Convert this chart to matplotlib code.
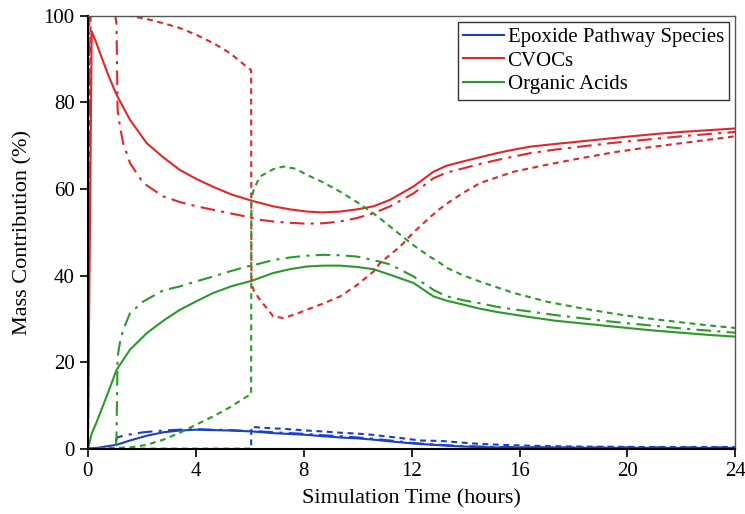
import matplotlib.pyplot as plt

plt.rcParams['font.family'] = ['Liberation Serif', 'DejaVu Serif']

BLUE = "#1c3fc4"
RED = "#e2262b"
GREEN = "#2b9a2b"

# solid scenario
t_solid = [0, 0.14, 0.3, 0.45, 0.75, 1.06, 1.56, 2.18, 2.8, 3.41, 4.03, 4.65, 5.3, 6.07, 6.87, 7.5, 8.11, 8.7, 9.35, 9.97, 10.58, 11.2, 12.07, 12.81, 13.3, 13.92, 14.5, 15.16, 15.78, 16.4, 17.3, 18.25, 19.2, 20, 21, 22, 23, 24]
epox_solid = [0, 0.05, 0.15, 0.3, 0.6, 0.9, 1.9, 3.0, 3.8, 4.2, 4.4, 4.3, 4.2, 4.0, 3.6, 3.4, 3.2, 2.9, 2.6, 2.4, 2.1, 1.7, 1.2, 0.9, 0.7, 0.5, 0.4, 0.3, 0.3, 0.3, 0.25, 0.2, 0.2, 0.2, 0.2, 0.2, 0.2, 0.2]
cvoc_solid = [0, 96.4, 94, 91.4, 86.4, 81.8, 76, 70.6, 67.3, 64.4, 62.3, 60.5, 58.8, 57.3, 56, 55.3, 54.8, 54.6, 54.8, 55.3, 56, 57.5, 60.6, 64, 65.4, 66.4, 67.3, 68.3, 69.1, 69.8, 70.4, 71, 71.6, 72.1, 72.7, 73.2, 73.6, 74]
acid_solid = [0, 3.5, 5.8, 8.2, 13, 18.2, 22.9, 26.7, 29.6, 32.1, 34.1, 36, 37.5, 38.8, 40.6, 41.5, 42.1, 42.3, 42.3, 42, 41.5, 40.2, 38.3, 35.2, 34.2, 33.3, 32.4, 31.6, 31, 30.4, 29.6, 29, 28.4, 27.9, 27.3, 26.8, 26.3, 25.9]

# dash-dot scenario
t_dd = [0, 0.05, 1.02, 1.06, 1.1, 1.2, 1.31, 1.56, 2.05, 2.79, 3.41, 4.03, 4.65, 5.27, 5.9, 6.38, 6.87, 7.5, 8.11, 8.73, 9.35, 9.97, 10.58, 11.2, 12.07, 12.81, 13.3, 13.92, 14.54, 15.16, 15.78, 16.4, 17.3, 18.25, 19.2, 20, 21, 22, 23, 24]
epox_dd = [0, 0, 0, 2.5, 2.6, 2.8, 3.0, 3.3, 3.8, 4.2, 4.4, 4.5, 4.4, 4.3, 4.1, 4.0, 3.8, 3.6, 3.4, 3.1, 2.9, 2.6, 2.3, 1.9, 1.3, 1.0, 0.8, 0.6, 0.5, 0.4, 0.35, 0.3, 0.3, 0.3, 0.3, 0.3, 0.3, 0.3, 0.3, 0.3]
cvoc_dd = [0, 100, 100, 98, 78.3, 74, 70.6, 66, 61.4, 58.3, 57, 56, 55.2, 54.4, 53.6, 52.9, 52.5, 52.2, 52, 52.1, 52.5, 53.3, 54.4, 56, 59, 62.5, 63.8, 64.8, 65.8, 66.7, 67.5, 68.3, 69.1, 69.8, 70.5, 71, 71.6, 72.2, 72.7, 73.2]
acid_dd = [0, 0, 0, 2.5, 21.3, 25, 27.5, 31.3, 34, 36.6, 37.5, 38.7, 39.8, 41, 42.1, 42.8, 43.6, 44.2, 44.6, 44.8, 44.7, 44.4, 43.6, 42.6, 39.8, 36.7, 35.2, 34.3, 33.6, 32.8, 32.2, 31.7, 30.9, 30.2, 29.5, 29, 28.4, 27.8, 27.3, 26.8]

# dotted scenario
t_dot = [0, 0.1, 1.56, 2.18, 2.8, 3.41, 4.03, 4.65, 5.27, 5.9, 6.05, 6.06, 6.15, 6.38, 6.87, 7.24, 7.7, 8.11, 8.7, 9.35, 9.97, 10.58, 10.83, 11.57, 12.07, 12.3, 12.7, 13.06, 13.3, 13.9, 14.54, 15.78, 17.0, 18.25, 19.5, 20.5, 22, 23, 24]
epox_dot = [0, 0, 0, 0, 0, 0, 0, 0, 0, 0, 0, 5.0, 5.0, 4.9, 4.7, 4.6, 4.4, 4.2, 4.0, 3.7, 3.5, 3.2, 3.0, 2.5, 2.1, 1.9, 1.85, 1.8, 1.7, 1.4, 1.1, 0.8, 0.6, 0.5, 0.45, 0.4, 0.4, 0.4, 0.4]
cvoc_dot = [0, 100, 100, 99.3, 98.3, 97.2, 95.6, 93.7, 91.4, 88.2, 87.5, 38.3, 36.5, 34.4, 30.6, 30.2, 31.1, 32.1, 33.5, 35.2, 37.8, 40.9, 42.9, 46.7, 50, 51.3, 53.6, 55.5, 56.6, 59.1, 61.4, 64, 65.6, 67.1, 68.5, 69.4, 70.6, 71.4, 72.2]
acid_dot = [0, 0, 0.3, 0.9, 2.1, 3.7, 5.6, 7.5, 9.6, 12.1, 12.5, 57.5, 60, 62.9, 64.6, 65.2, 64.7, 63.3, 61.6, 59.4, 57, 54.4, 53.2, 49.5, 47, 46, 44.3, 42.9, 41.8, 40.1, 38.6, 36, 34, 32.5, 31.2, 30.3, 29.2, 28.5, 27.9]

fig = plt.figure(figsize=(7.45, 5.14), dpi=100)
ax = fig.add_axes([0.118, 0.127, 0.869, 0.842])

dd = (0, (7, 3, 1.5, 3))
dot = (0, (2.8, 2.2))
lw = 1.5

ax.plot(t_solid, epox_solid, color=BLUE, lw=lw, label="Epoxide Pathway Species")
ax.plot(t_solid, cvoc_solid, color=RED, lw=lw, label="CVOCs")
ax.plot(t_solid, acid_solid, color=GREEN, lw=lw, label="Organic Acids")

ax.plot(t_dd, epox_dd, color=BLUE, lw=lw, ls=dd)
ax.plot(t_dd, cvoc_dd, color=RED, lw=lw, ls=dd)
ax.plot(t_dd, acid_dd, color=GREEN, lw=lw, ls=dd)

ax.plot(t_dot, epox_dot, color=BLUE, lw=lw, ls=dot)
ax.plot(t_dot, cvoc_dot, color=RED, lw=lw, ls=dot)
ax.plot(t_dot, acid_dot, color=GREEN, lw=lw, ls=dot)

ax.set_xlim(0, 24)
ax.set_ylim(0, 100)
ax.set_xticks(range(0, 25, 4))
ax.set_yticks(range(0, 101, 20))
ax.tick_params(direction='out', length=6, width=1.2, labelsize=15, top=False, right=False)
for s in ['left', 'bottom']:
    ax.spines[s].set_linewidth(1.5)
for s in ['top', 'right']:
    ax.spines[s].set_linewidth(1.0)
    ax.spines[s].set_color('#555555')

ax.set_xlabel("Simulation Time (hours)", fontsize=16, labelpad=6)
ax.set_ylabel("Mass Contribution (%)", fontsize=16, labelpad=8)

leg = ax.legend(loc='upper right', fontsize=15, frameon=True, fancybox=False,
                handlelength=2.0, handletextpad=0.15, borderpad=0.25, labelspacing=0.2,
                borderaxespad=0.3)
leg.get_frame().set_edgecolor('black')
leg.get_frame().set_linewidth(1.0)

fig.savefig("out.png", dpi=100)
